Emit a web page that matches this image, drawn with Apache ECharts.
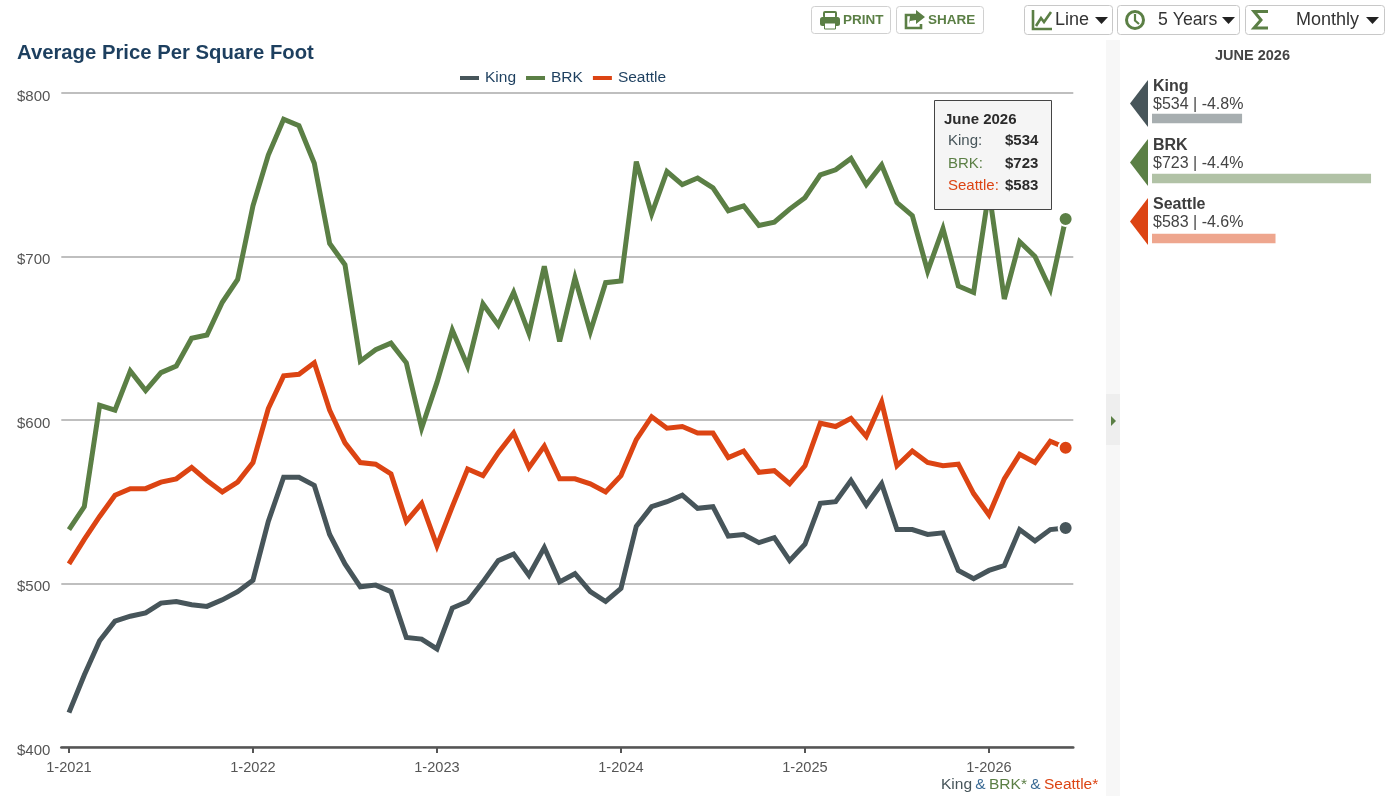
<!DOCTYPE html>
<html><head><meta charset="utf-8">
<style>html,body{margin:0;padding:0;background:#fff}#c{width:1400px;height:801px}</style>
<script src="https://cdn.jsdelivr.net/npm/echarts@6/dist/echarts.min.js"></script>
</head><body><div id="c"></div>
<script>
const months=["1-2021","2-2021","3-2021","4-2021","5-2021","6-2021","7-2021","8-2021","9-2021","10-2021","11-2021","12-2021",
"1-2022","2-2022","3-2022","4-2022","5-2022","6-2022","7-2022","8-2022","9-2022","10-2022","11-2022","12-2022",
"1-2023","2-2023","3-2023","4-2023","5-2023","6-2023","7-2023","8-2023","9-2023","10-2023","11-2023","12-2023",
"1-2024","2-2024","3-2024","4-2024","5-2024","6-2024","7-2024","8-2024","9-2024","10-2024","11-2024","12-2024",
"1-2025","2-2025","3-2025","4-2025","5-2025","6-2025","7-2025","8-2025","9-2025","10-2025","11-2025","12-2025",
"1-2026","2-2026","3-2026","4-2026","5-2026","6-2026"];
const king=[421,444,465,477,480,482,488,489,487,486,490,495,
502,538,565,565,560,530,512,498,499,495,467,466,
460,485,489,501,514,518,505,522,501,506,495,489,
497,535,547,550,554,546,547,529,530,525,528,514,
524,549,550,563,548,561,533,533,530,531,508,503,
508,511,533,526,533,534];
const brk=[533,547,609,606,630,618,629,633,650,652,672,686,
731,762,784,780,757,708,695,636,643,647,635,595,
623,655,633,671,658,678,653,694,648,687,654,684,
685,758,726,752,744,748,742,728,731,719,721,729,
736,750,753,760,744,756,733,725,691,717,682,678,
740,674,709,700,680,723];
const seattle=[512,527,541,554,558,558,562,564,571,563,556,562,
574,607,627,628,635,606,586,574,573,567,538,549,
523,547,570,566,580,592,571,584,564,564,561,556,
566,588,602,595,596,592,592,577,581,568,569,561,
572,598,596,601,590,611,572,581,574,572,573,555,
542,564,579,574,587,583];
const seriesNames=["King","BRK","Seattle"];
const seriesValues=[king,brk,seattle];
const seriesColors=["#47555a","#5b7f45","#dc4413"];
const changes=["-4.8%","-4.4%","-4.6%"];
const periodLong="June 2026";
const periodUpper="JUNE 2026";

const FONT='"Liberation Sans", Arial, sans-serif';
const GREEN=seriesColors[1];
const latest=seriesValues.map(a=>a[a.length-1]);

function T(x,y,text,size,fill,bold,align,z){
  return {type:'text',z:z||20,silent:true,style:{x,y,text,fill,
    font:(bold?'bold ':'')+size+'px '+FONT,align:align||'left',verticalAlign:'middle'}};
}
function R(x,y,w,h,fill,stroke,r,z){
  return {type:'rect',z:z||10,silent:true,shape:{x,y,width:w,height:h,r:r||0},style:{fill:fill,stroke:stroke||null,lineWidth:stroke?1:0}};
}
function P(points,fill,z){return {type:'polygon',z:z||20,silent:true,shape:{points},style:{fill}};}
function L(points,stroke,w,z){return {type:'polyline',z:z||20,silent:true,shape:{points},style:{stroke,lineWidth:w,fill:null,lineJoin:'miter'}};}
function caret(x,y,c){return P([[x,y],[x+13,y],[x+6.5,y+7]],c||'#222');}

const g=[];
g.push(T(17,53,'Average Price Per Square Foot',20.3,'#1d3f5f',true));

// toolbar: print / share
g.push(R(811.5,6.5,79,27,'#fff','#d0d0d0',3));
g.push(R(896.5,6.5,87,27,'#fff','#d0d0d0',3));
g.push(R(823,11,14,7,GREEN,null,2,20),R(825,13,10,4,'#fff',null,0,21),R(820,17,20,9,GREEN,null,2.5,20),R(824.5,23,11,6,'#fff',GREEN,0,21));
g.push(T(843,20,'PRINT',13.5,GREEN,true));
g.push(L([[917,15],[906,15],[906,28],[921,28],[921,24]],GREEN,2.6));
g.push(P([[916,10],[925,17],[916,24],[916,20],[910,21],[909,24],[910,16],[916,14]],GREEN));
g.push(T(928,20,'SHARE',13.5,GREEN,true));

// toolbar: dropdowns
g.push(R(1024.5,5.5,88,29,'#fff','#c8c8c8',3));
g.push(R(1117.5,5.5,122,29,'#fff','#c8c8c8',3));
g.push(R(1245.5,5.5,139,29,'#fff','#c8c8c8',3));
g.push(L([[1033,10],[1033,29],[1052,29]],GREEN,2.6));
g.push(L([[1036,26],[1041,18],[1044,22],[1051,12]],GREEN,2.6));
g.push(T(1055,20.5,'Line',18,'#333'));
g.push(caret(1095,17));
g.push({type:'circle',z:20,silent:true,shape:{cx:1135,cy:20,r:8.5},style:{fill:'#fff',stroke:GREEN,lineWidth:3}});
g.push(L([[1135,14],[1135,20.5],[1139,24]],GREEN,2.2));
g.push(T(1158,20.5,'5 Years',17.7,'#333'));
g.push(caret(1222,17));
g.push(L([[1268,11.5],[1254,11.5],[1261,20],[1254,28],[1268,28]],GREEN,3));
g.push(T(1296,20.5,'Monthly',18,'#333'));
g.push(caret(1366,17));

// splitter strip
g.push(R(1106,40,14,756,'#f7f7f7'));
g.push(R(1106,394,14,51,'#eeeeee'));
g.push(P([[1111,416],[1116,421],[1111,426]],GREEN));

// tooltip
g.push(R(934.5,100.5,117,109,'#f5f5f5','#444',0,50));
g.push(T(944,119.5,periodLong,15,'#2b2b2b',true,'left',51));
const rowY=[141,164,186];
seriesNames.forEach((n,i)=>{
  g.push(T(948,rowY[i],n+':',15,seriesColors[i],false,'left',51));
  g.push(T(1005,rowY[i],'$'+latest[i],15,'#2b2b2b',true,'left',51));
});

// right panel
g.push(T(1252.5,55.5,periodUpper,14.5,'#444',true,'center'));
const panelY=[103.5,162.5,221.5];
seriesNames.forEach((n,i)=>{
  const c=panelY[i];
  g.push(P([[1130,c],[1148,c-23.5],[1148,c+23.5]],seriesColors[i]));
  g.push(T(1153,c-16.5,n,16,'#3d3d3d',true));
  g.push(T(1153,c+1.5,'$'+latest[i]+' | '+changes[i],16,'#444'));
});

// footer source
g.push({type:'text',z:20,silent:true,style:{x:941,y:785,verticalAlign:'middle',
  text:'{a|King} {b|&} {c|BRK*} {b|&} {d|Seattle*}',
  rich:{a:{fill:'#47555a',font:'15.5px '+FONT},b:{fill:'#3a6a94',font:'15.5px '+FONT},
        c:{fill:GREEN,font:'15.5px '+FONT},d:{fill:'#dc4413',font:'15.5px '+FONT}}}});

const lineSeries=seriesNames.map((n,i)=>({
  name:n,type:'line',xAxisIndex:0,yAxisIndex:0,data:seriesValues[i],
  showAllSymbol:true,
  symbol:(v,p)=>p.dataIndex===months.length-1?'circle':'none',
  symbolSize:14,
  itemStyle:{color:seriesColors[i],borderColor:'#fff',borderWidth:2},
  lineStyle:{color:seriesColors[i],width:5,join:'miter',miterLimit:4},
  animation:false,silent:true,z:3+i
}));

const barSeries={type:'bar',xAxisIndex:1,yAxisIndex:1,barWidth:9.5,animation:false,silent:true,
  data:latest.map((v,i)=>({value:v,itemStyle:{color:seriesColors[i],opacity:0.48}}))};

echarts.init(document.getElementById('c'),null,{renderer:'canvas'}).setOption({
  backgroundColor:'#fff',animation:false,
  textStyle:{fontFamily:FONT},
  legend:{data:seriesNames,left:458,top:70,padding:0,itemWidth:21,itemHeight:6,itemGap:8,icon:'rect',
    textStyle:{color:'#1d3f5f',fontSize:15.5,fontFamily:FONT},selectedMode:false},
  grid:[
    {left:61.3,top:93,width:1012,height:654},
    {left:1152,top:88.5,width:240.2,height:180}
  ],
  xAxis:[
    {type:'category',gridIndex:0,data:months,boundaryGap:true,
      axisLine:{show:true,onZero:false,lineStyle:{color:'#555',width:2.5}},
      axisTick:{show:true,alignWithLabel:true,interval:11,length:6,lineStyle:{color:'#555',width:2}},
      axisLabel:{interval:11,color:'#555',fontSize:14.6,fontFamily:FONT,margin:13},
      splitLine:{show:false}},
    {type:'value',gridIndex:1,min:402,max:754,show:false}
  ],
  yAxis:[
    {type:'value',gridIndex:0,min:400,max:800,interval:100,
      axisLine:{show:false},axisTick:{show:false},
      axisLabel:{formatter:v=>'{a|$'+v+'}',align:'left',margin:44.3,
        rich:{a:{color:'#555',fontSize:15,fontFamily:FONT,padding:[7,0,0,0]}}},
      splitLine:{lineStyle:{color:'#aaa',width:1.5}}},
    {type:'category',gridIndex:1,data:seriesNames,inverse:true,show:false}
  ],
  series:[...lineSeries,barSeries],
  graphic:{elements:g}
});
</script></body></html>
